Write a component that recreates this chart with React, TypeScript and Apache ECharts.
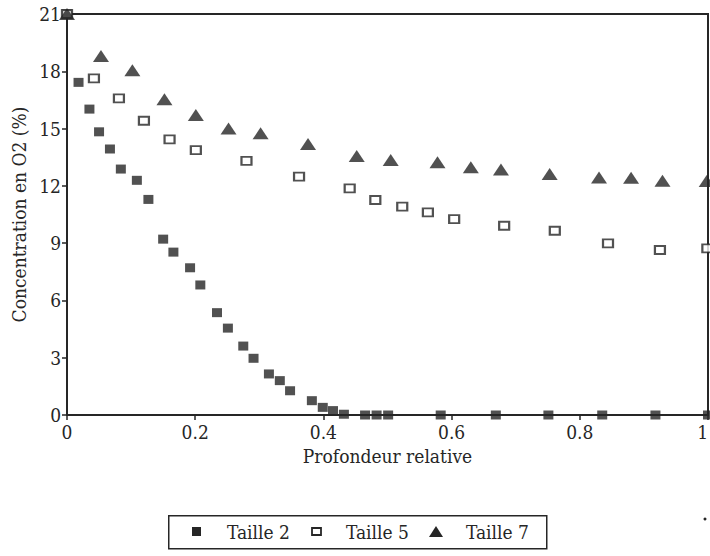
import React, { useEffect, useRef } from "react";
import * as echarts from "echarts";

const xTaille2 = [0, 0.018, 0.035, 0.05, 0.067, 0.084, 0.109, 0.127, 0.15, 0.166, 0.192, 0.208, 0.234, 0.251, 0.275, 0.291, 0.315, 0.332, 0.348, 0.382, 0.399, 0.415, 0.432, 0.465, 0.483, 0.501, 0.583, 0.669, 0.751, 0.835, 0.918, 1.0];
const yTaille2 = [21, 17.42, 16.02, 14.83, 13.93, 12.88, 12.29, 11.29, 9.21, 8.53, 7.71, 6.81, 5.36, 4.55, 3.61, 2.97, 2.15, 1.8, 1.27, 0.75, 0.4, 0.23, 0.04, 0, 0, 0, 0, 0, 0, 0, 0, 0];

const xTaille5 = [0, 0.042, 0.081, 0.12, 0.16, 0.201, 0.28, 0.362, 0.441, 0.481, 0.523, 0.563, 0.604, 0.682, 0.761, 0.844, 0.925, 0.999];
const yTaille5 = [21, 17.63, 16.58, 15.41, 14.43, 13.87, 13.31, 12.48, 11.87, 11.26, 10.91, 10.61, 10.26, 9.91, 9.65, 8.99, 8.64, 8.73];

const xTaille7 = [0, 0.053, 0.102, 0.152, 0.201, 0.252, 0.302, 0.376, 0.452, 0.505, 0.578, 0.63, 0.677, 0.753, 0.83, 0.88, 0.929, 0.998];
const yTaille7 = [21, 18.8, 18.06, 16.53, 15.71, 15.01, 14.75, 14.19, 13.56, 13.35, 13.23, 12.98, 12.86, 12.62, 12.44, 12.42, 12.27, 12.25];

const seriesNames = ["Taille 2", "Taille 5", "Taille 7"];
const xAxisTitle = "Profondeur relative";
const yAxisTitle = "Concentration en O2 (%)";

const INK = "#262626";
const FONT = "DejaVu Serif Condensed";

function pairs(xs: number[], ys: number[]) {
  return xs.map((x, i) => [x, ys[i]]);
}

export default function App() {
  const ref = useRef<HTMLDivElement>(null);
  useEffect(() => {
    if (!ref.current) return;
    const chart = echarts.init(ref.current, null, { renderer: "svg" });
    const axisText = { color: INK, fontFamily: FONT, fontSize: 19 };
    chart.setOption({
      animation: false,
      backgroundColor: "#ffffff",
      textStyle: { fontFamily: FONT },
      grid: {
        left: 67,
        right: 2,
        top: 14,
        bottom: 141,
        show: true,
        borderColor: INK,
        borderWidth: 2,
        containLabel: false,
        outerBoundsMode: "none",
      },
      xAxis: {
        type: "value",
        min: 0,
        max: 1,
        interval: 0.2,
        name: xAxisTitle,
        nameLocation: "middle",
        nameGap: 31,
        nameTextStyle: axisText,
        axisLine: { show: true, lineStyle: { color: INK, width: 2 } },
        axisTick: { show: true, length: 5, lineStyle: { color: INK, width: 1.5 } },
        axisLabel: { ...axisText, margin: 7, alignMaxLabel: "right" },
        splitLine: { show: false },
      },
      yAxis: {
        type: "value",
        min: 0,
        max: 21,
        interval: 3,
        name: yAxisTitle,
        nameLocation: "middle",
        nameGap: 34,
        nameTextStyle: axisText,
        axisLine: { show: true, lineStyle: { color: INK, width: 2 } },
        axisTick: { show: true, length: 5, lineStyle: { color: INK, width: 1.5 } },
        axisLabel: { ...axisText, margin: 6 },
        splitLine: { show: false },
      },
      series: [
        {
          name: seriesNames[0],
          type: "scatter",
          clip: false,
          symbol: "rect",
          symbolSize: [10, 9],
          itemStyle: { color: INK },
          data: pairs(xTaille2, yTaille2),
        },
        {
          name: seriesNames[1],
          type: "scatter",
          clip: false,
          symbol: "rect",
          symbolSize: [10, 8],
          itemStyle: { color: "#ffffff", borderColor: INK, borderWidth: 2 },
          data: pairs(xTaille5, yTaille5),
        },
        {
          name: seriesNames[2],
          type: "scatter",
          clip: false,
          symbol: "triangle",
          symbolSize: [16, 12],
          itemStyle: { color: INK },
          data: pairs(xTaille7, yTaille7),
        },
      ],
      graphic: [
        {
          type: "rect",
          left: 168,
          top: 515,
          shape: { width: 378, height: 33 },
          style: { fill: "#ffffff", stroke: INK, lineWidth: 1.5 },
        },
        {
          type: "rect",
          x: 192,
          y: 527,
          shape: { width: 9, height: 9 },
          style: { fill: INK },
        },
        {
          type: "text",
          x: 227,
          y: 532,
          style: { text: seriesNames[0], fill: INK, fontFamily: FONT, fontSize: 19, verticalAlign: "middle" },
        },
        {
          type: "rect",
          x: 312,
          y: 528,
          shape: { width: 9, height: 7 },
          style: { fill: "#ffffff", stroke: INK, lineWidth: 1.8 },
        },
        {
          type: "text",
          x: 346,
          y: 532,
          style: { text: seriesNames[1], fill: INK, fontFamily: FONT, fontSize: 19, verticalAlign: "middle" },
        },
        {
          type: "polygon",
          shape: { points: [[436, 526], [443, 537], [429, 537]] },
          style: { fill: INK },
        },
        {
          type: "text",
          x: 466,
          y: 532,
          style: { text: seriesNames[2], fill: INK, fontFamily: FONT, fontSize: 19, verticalAlign: "middle" },
        },
        {
          type: "circle",
          shape: { cx: 705, cy: 519, r: 1.5 },
          style: { fill: INK },
        },
      ],
    });
    return () => chart.dispose();
  }, []);
  return (
    <div
      ref={ref}
      style={{ position: "fixed", left: 0, top: 0, width: 710, height: 556 }}
    />
  );
}
